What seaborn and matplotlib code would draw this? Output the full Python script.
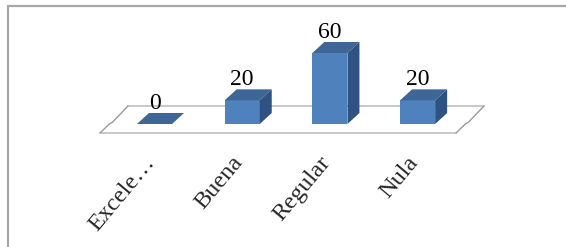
import matplotlib
matplotlib.use("Agg")
import matplotlib.pyplot as plt
import matplotlib.transforms as mtransforms
from matplotlib.patches import Polygon
from matplotlib.lines import Line2D
import seaborn as sns
import pandas as pd

# ---- data ----
categories = ["Excelente", "Buena", "Regular", "Nula"]
tick_labels = ["Excele\u2026", "Buena", "Regular", "Nula"]
values = [0, 20, 60, 20]

sns.set_style("white")
plt.rcParams["font.family"] = ["Liberation Serif", "DejaVu Serif"]

W, H = 566, 247
fig = plt.figure(figsize=(W / 100, H / 100), dpi=100)

px_per_unit = 71 / 60.0
y0_pix = 124.0
ylo, yhi = -10, 75
bottom_pix = y0_pix - ylo * px_per_unit
top_pix = y0_pix - yhi * px_per_unit
x_left_pix, x_right_pix = 100.0, 456.0
ax = fig.add_axes([x_left_pix / W, (H - bottom_pix) / H,
                   (x_right_pix - x_left_pix) / W, (bottom_pix - top_pix) / H])

df = pd.DataFrame({"cat": categories, "val": values})
front = "#4F81BD"
top_c = "#3E6797"
side_c = "#2F5283"
sns.barplot(data=df, x="cat", y="val", color=front, saturation=1,
            width=0.4, linewidth=0, ax=ax, zorder=2)

step_pix = 87.7
xlo = -(154.5 - x_left_pix) / step_pix
xhi = xlo + (x_right_pix - x_left_pix) / step_pix
ax.set_xlim(xlo, xhi)
ax.set_ylim(ylo, yhi)

# depth offset of the 3D effect
ddx = 12 / step_pix
ddy = 11 / px_per_unit

# floor
f_front = -9 / px_per_unit
f_back = 18 / px_per_unit
f_shift = 28 / step_pix
floor_col = "#c4c4c4"
floor = Polygon([(xlo, f_front), (xhi, f_front), (xhi + f_shift, f_back),
                 (xlo + f_shift, f_back)], closed=True, facecolor="white",
                edgecolor="none", zorder=0.5, clip_on=False)
ax.add_patch(floor)
ax.plot([xlo, xhi], [f_front, f_front], color=floor_col, lw=1.3, zorder=0.6, clip_on=False)
ax.plot([xlo + f_shift, xhi + f_shift], [f_back, f_back], color=floor_col, lw=1.3,
        zorder=0.6, clip_on=False)


def side_edge(x0):
    t_pts = (0.0, 0.35, 0.5, 1.0)
    pts = [(x0 + f_shift * t, f_front + (f_back - f_front) * t) for t in t_pts]
    (xa, ya), (xb, yb), (xc, yc), (xd, yd) = pts
    xs = [xa, xb, xc - 0.02, xd]
    ys = [ya, yb, yc - 2.5, yd]
    ax.plot(xs, ys, color="#9a9a9a", lw=1.0, zorder=0.6, clip_on=False)


side_edge(xlo)
side_edge(xhi)

# 3D faces
for p, v in zip(ax.patches[:len(values)], values):
    x0, w, h = p.get_x(), p.get_width(), p.get_height()
    topf = Polygon([(x0, h), (x0 + w, h), (x0 + w + ddx, h + ddy), (x0 + ddx, h + ddy)],
                   closed=True, facecolor=top_c, edgecolor="none", zorder=2, clip_on=False)
    ax.add_patch(topf)
    if h > 0:
        sidef = Polygon([(x0 + w, 0), (x0 + w, h), (x0 + w + ddx, h + ddy), (x0 + w + ddx, ddy)],
                        closed=True, facecolor=side_c, edgecolor="none", zorder=2, clip_on=False)
        ax.add_patch(sidef)
    ax.annotate(str(v), xy=(x0 + w / 2, h + ddy), xytext=(0, 3), textcoords="offset points",
                ha="center", va="baseline", fontsize=17, color="black", clip_on=False)

ax.set_xticks(range(len(categories)))
ax.set_xticklabels(tick_labels, rotation=50, ha="right", rotation_mode="anchor",
                   fontsize=17.5)
ax.tick_params(axis="x", length=0, pad=9)
shift = mtransforms.ScaledTranslation(-11 / 100, -4 / 100, fig.dpi_scale_trans)
for lbl in ax.get_xticklabels():
    lbl.set_transform(lbl.get_transform() + shift)
ax.set_yticks([])
ax.set_xlabel("")
ax.set_ylabel("")
for s in ax.spines.values():
    s.set_visible(False)
ax.patch.set_alpha(0)

# outer frame
frame_c = "#a8a8a8"
fig.add_artist(Line2D([8 / W, 1], [1 - 6 / H, 1 - 6 / H], transform=fig.transFigure,
                      color=frame_c, lw=1.6))
fig.add_artist(Line2D([8 / W, 8 / W], [0, 1 - 6 / H], transform=fig.transFigure,
                      color=frame_c, lw=1.6))

fig.savefig("out.png", dpi=100)
